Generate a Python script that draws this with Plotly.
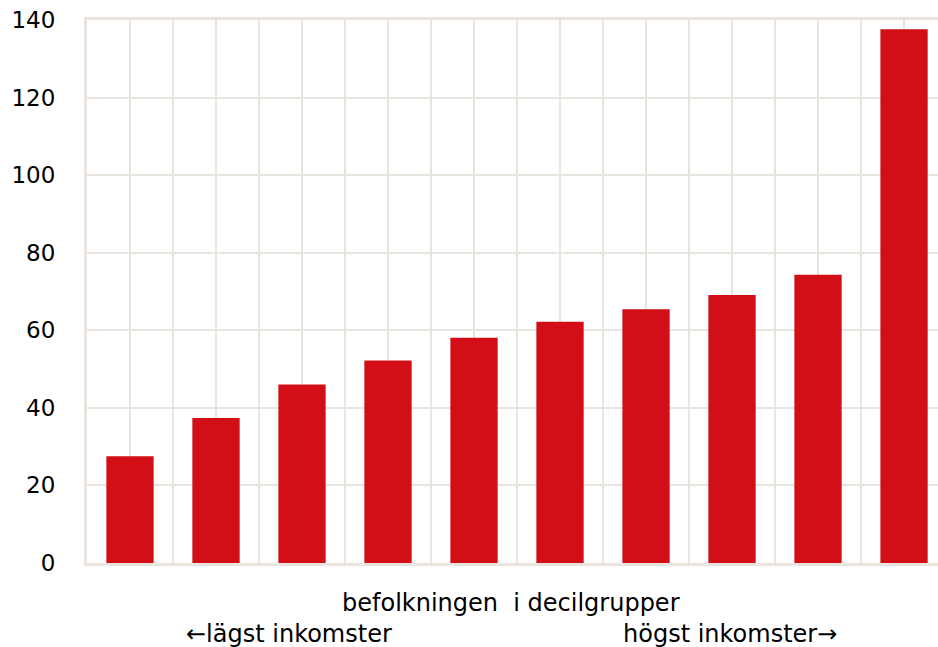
import plotly.graph_objects as go

deciles = list(range(10))
values = [27.5, 37.4, 46.0, 52.2, 58.1, 62.2, 65.4, 69.1, 74.3, 137.6]
y_ticks = [0, 20, 40, 60, 80, 100, 120, 140]
x_title = "befolkningen  i decilgrupper"
left_label = "←lägst inkomster"
right_label = "högst inkomster→"

GRID = "#e9e4dd"
BAR = "#d20f17"
FONT = "DejaVu Sans, Liberation Sans, Arial, sans-serif"

fig = go.Figure(go.Bar(x=deciles, y=values, marker=dict(color=BAR, line=dict(width=0)), width=0.55))

fig.update_layout(
    width=938, height=647,
    margin=dict(l=87, r=0, t=20, b=84),
    paper_bgcolor="white", plot_bgcolor="white",
    showlegend=False,
    font=dict(family=FONT, color="black"),
)
fig.update_xaxes(
    range=[-0.5, 9.395], tick0=-0.5, dtick=0.5, showticklabels=False,
    showgrid=True, gridcolor=GRID, gridwidth=2,
    showline=True, linecolor=GRID, linewidth=3, mirror=True,
    zeroline=False, ticks="",
)
fig.update_yaxes(
    range=[0, 140], tickvals=y_ticks, ticktext=[str(v) for v in y_ticks],
    showgrid=True, gridcolor=GRID, gridwidth=2,
    showline=True, linecolor=GRID, linewidth=3,
    zeroline=False, ticks="", ticklabelstandoff=24,
    tickfont=dict(size=23, family=FONT, color="black"),
)

fig.add_annotation(text=x_title, x=511, y=603, showarrow=False,
                   font=dict(size=24, family=FONT, color="black"), xanchor="center", yanchor="middle")
fig.add_annotation(text=left_label, x=289, y=634, showarrow=False,
                   font=dict(size=24, family=FONT, color="black"), xanchor="center", yanchor="middle")
fig.add_annotation(text=right_label, x=730, y=634, showarrow=False,
                   font=dict(size=24, family=FONT, color="black"), xanchor="center", yanchor="middle")

# convert pixel positions to paper coordinates
pl, pr, pt, pb = 87, 938, 20, 563
for a in fig.layout.annotations:
    a.xref = "paper"; a.yref = "paper"
    a.x = (a.x - pl) / (pr - pl)
    a.y = (pb - a.y) / (pb - pt)

fig.write_html("out.html", config={"displayModeBar": False},
               post_script="document.body.style.margin='0';document.body.style.padding='0';")
